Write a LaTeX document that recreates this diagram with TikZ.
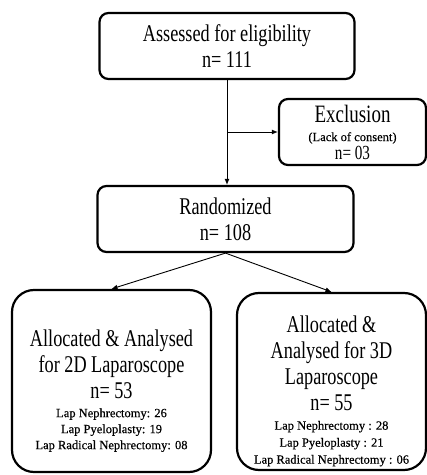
\documentclass[tikz,border=0pt]{standalone}
\usepackage{fontspec}
\setmainfont{Liberation Serif}
\newfontfamily\condfont[FakeStretch=0.76]{Liberation Serif}
\newfontfamily\plainfont[FakeBold=0.4]{Liberation Serif}
\newcommand{\bigtxt}{\condfont\fontsize{24}{26}\selectfont}
\newcommand{\midtxt}{\condfont\fontsize{20}{22}\selectfont}
\newcommand{\smalltxt}{\plainfont\fontsize{12.5}{14}\selectfont}
\newcommand{\pushdown}{\rule{0pt}{36pt}}
\usetikzlibrary{arrows.meta, positioning}

\begin{document}
\begin{tikzpicture}[x=1pt,y=1pt,
    box/.style={draw, line width=2.2pt, rounded corners=9pt, align=center, font=\bigtxt, inner sep=0pt},
    tallbox/.style={box, rounded corners=22pt},
    arr/.style={-{Latex[length=6pt,width=5pt]}, line width=0.9pt}]
    \useasboundingbox (0,0) rectangle (427,475);
    \node[box, minimum width=255pt, minimum height=66pt] (assess) at (227,429) {Assessed for eligibility\\n= 111};
    \node[box, minimum width=147pt, minimum height=66pt] (excl) at (352.5,343) {{\condfont\fontsize{25}{26}\selectfont Exclusion}\\[-7pt]{\smalltxt (Lack of consent)}\\[-8pt]{\midtxt n= 03}};
    \node[box, minimum width=256pt, minimum height=66pt] (rand) at (225.5,256) {Randomized\\n= 108};
    \node[tallbox, minimum width=199pt, minimum height=182pt] (alloc2d) at (111.5,94) {\pushdown Allocated \& Analysed\\for 2D Laparoscope\\n= 53\\[-7pt]{\smalltxt Lap Nephrectomy: 26}\\[-10pt]{\smalltxt Lap Pyeloplasty: 19}\\[-10pt]{\smalltxt Lap Radical Nephrectomy: 08}};
    \node[tallbox, minimum width=189pt, minimum height=177pt] (alloc3d) at (331.5,93.5) {\pushdown Allocated \&\\Analysed for 3D\\Laparoscope\\n= 55\\[-7pt]{\smalltxt Lap Nephrectomy : 28}\\[-9pt]{\smalltxt Lap Pyeloplasty : 21}\\[-9pt]{\smalltxt Lap Radical Nephrectomy : 06}};
    \coordinate (split) at (assess.south |- excl.west);
    \draw[line width=0.9pt] (assess.south) -- (split);
    \draw[arr] (split) -- (split |- rand.north);
    \draw[arr] (split) -- (excl.west);
    \draw[arr] (rand.south) -- (alloc2d.north);
    \draw[arr] (rand.south) -- (alloc3d.north);
\end{tikzpicture}
\end{document}
